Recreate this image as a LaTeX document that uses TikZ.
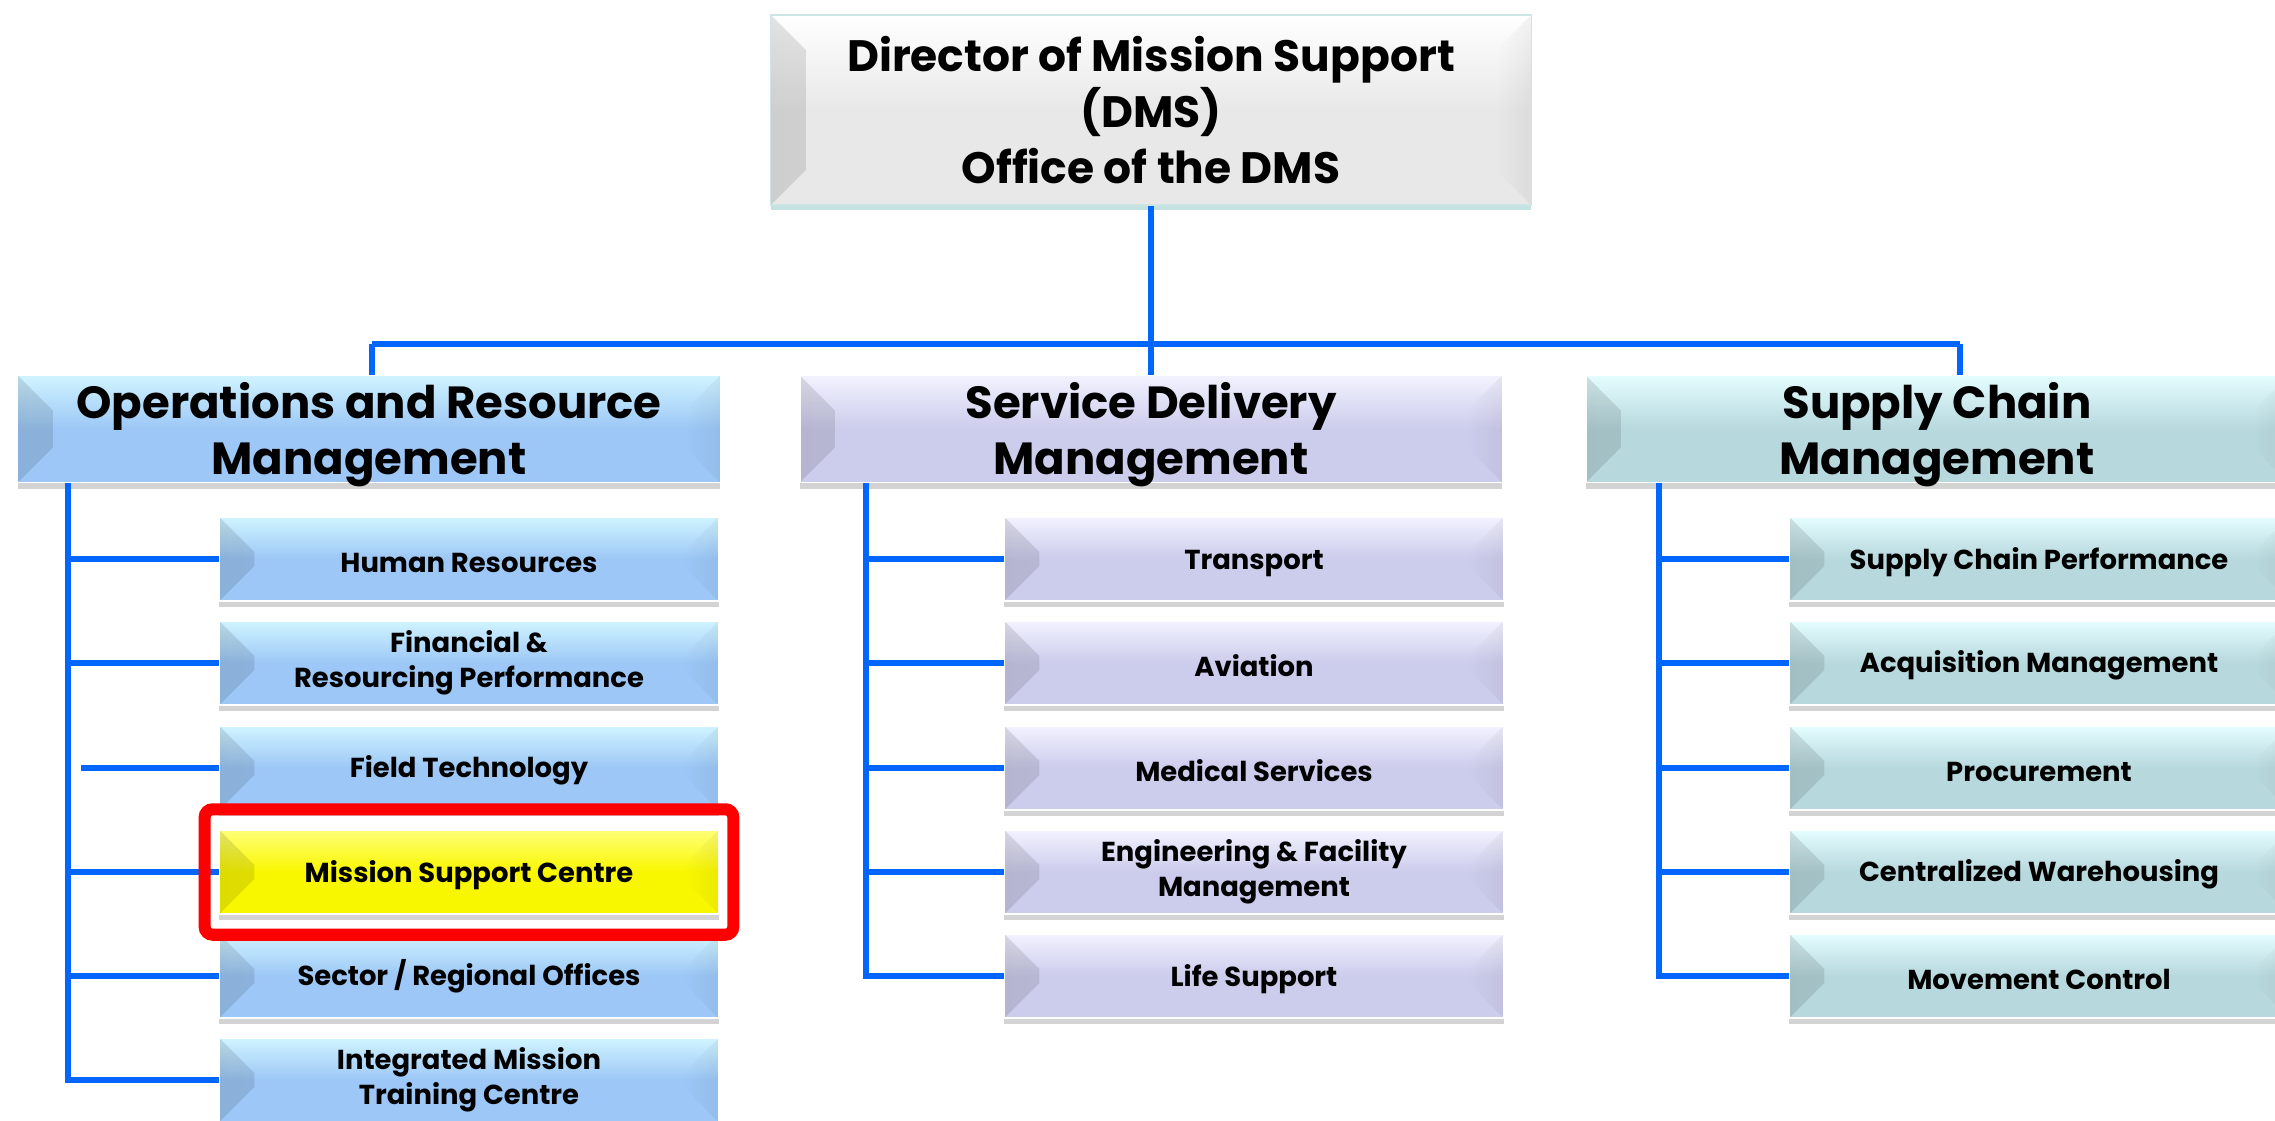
\documentclass[tikz,border=0pt]{standalone}
\usepackage{fontspec}
\setmainfont{Poppins}
\usetikzlibrary{shadows,shadings,fadings,fit,calc}

\definecolor{dmsgrey}{RGB}{232,232,232}
\definecolor{opsblue}{RGB}{156,199,246}
\definecolor{opstop}{RGB}{208,244,255}
\definecolor{svclilac}{RGB}{204,204,236}
\definecolor{svctop}{RGB}{242,242,255}
\definecolor{supteal}{RGB}{183,216,221}
\definecolor{suptop}{RGB}{228,253,255}
\definecolor{mscyellow}{RGB}{249,247,0}
\definecolor{msctop}{RGB}{255,255,120}
\definecolor{linkblue}{RGB}{0,102,255}

\tikzstyle{bevel}=[path picture={
    \fill[black,opacity=0.11,path fading=east] (path picture bounding box.north west) -- ++(0.35cm,-0.35cm) -- ([xshift=0.35cm,yshift=0.35cm]path picture bounding box.south west) -- (path picture bounding box.south west) -- cycle;
    \fill[black,opacity=0.05,path fading=west] (path picture bounding box.north east) -- ++(-0.35cm,-0.35cm) -- ([xshift=-0.35cm,yshift=0.35cm]path picture bounding box.south east) -- (path picture bounding box.south east) -- cycle;}]
\tikzstyle{box}=[rectangle,draw=white,line width=0.4pt,align=center,inner sep=0pt,bevel]
\tikzstyle{topbox}=[box,draw=teal!20,minimum width=7.6cm,minimum height=1.9cm,top color=white,bottom color=dmsgrey,middle color=dmsgrey,
    drop shadow={shadow xshift=0pt,shadow yshift=-0.05cm,fill=teal!45,opacity=0.5},font=\bfseries\fontsize{12.5}{16}\selectfont]
\tikzstyle{headbox}=[box,minimum width=7.02cm,minimum height=1.07cm,text height=0.99cm,text depth=0.08cm,
    drop shadow={shadow xshift=0pt,shadow yshift=-0.06cm,fill=black!50,opacity=0.35},font=\bfseries\fontsize{12.8}{16}\selectfont]
\tikzstyle{subbox}=[box,minimum width=4.99cm,minimum height=0.84cm,execute at begin node={\rule{0pt}{1em}},
    drop shadow={shadow xshift=0pt,shadow yshift=-0.06cm,fill=black!50,opacity=0.35},font=\bfseries\fontsize{7.8}{10}\selectfont]
\tikzstyle{ops}=[top color=opstop,bottom color=opsblue,middle color=opsblue]
\tikzstyle{svc}=[top color=svctop,bottom color=svclilac,middle color=svclilac]
\tikzstyle{sup}=[top color=suptop,bottom color=supteal,middle color=supteal]
\tikzstyle{msc}=[top color=msctop,bottom color=mscyellow,middle color=mscyellow]
\tikzstyle{link}=[draw,linkblue,line width=0.055cm]
\tikzstyle{hilite}=[draw=red,line width=0.12cm,rounded corners=0.08cm,inner xsep=0.14cm,inner ysep=0.2cm]

\begin{document}
\begin{tikzpicture}[x=0.01cm,y=-0.01cm]
    \useasboundingbox (0,0) rectangle (2275,1121);

    \node[topbox] (dms) at (1151,110) {Director of Mission Support\\(DMS)\\Office of the DMS};

    \node[headbox,ops] (orm) at (369,429) {Operations and Resource\\Management};
    \node[headbox,svc] (sdm) at (1151,429) {Service Delivery\\Management};
    \node[headbox,sup] (scm) at (1937,429) {Supply Chain\\Management};

    % Sections under each head
    \foreach \y/\name/\txt in {559/hr/{Human Resources}, 663/fin/{Financial \&\\Resourcing Performance},
        768/ft/{Field Technology}, 976/sro/{Sector / Regional Offices}, 1080/imtc/{Integrated Mission\\Training Centre}}
        \node[subbox,ops] (\name) at (469,\y) {\txt};
    \node[subbox,msc] (msc) at (469,872) {Mission Support Centre};

    \foreach \y/\name/\txt in {559/tr/{Transport}, 663/av/{Aviation}, 768/med/{Medical Services},
        872/efm/{Engineering \& Facility\\Management}, 976/ls/{Life Support}}
        \node[subbox,svc] (\name) at (1254,\y) {\txt};

    \foreach \y/\name/\txt in {559/scp/{Supply Chain Performance}, 663/acq/{Acquisition Management},
        768/proc/{Procurement}, 872/cw/{Centralized Warehousing}, 976/mc/{Movement Control}}
        \node[subbox,sup] (\name) at (2039,\y) {\txt};

    % Connect the director to the three heads
    \coordinate (busL) at (372,344);
    \coordinate (busR) at (1960,344);
    \path[link] (busL) -- (busR);
    \path[link] (dms.south) -- (sdm.north);
    \path[link] (busL) -- (busL |- orm.north);
    \path[link] (busR) -- (busR |- scm.north);

    % Connect each head to its sections
    \coordinate (opsTrunk) at (68,0);
    \coordinate (ftGap) at (81,0);
    \coordinate (svcTrunk) at (866,0);
    \coordinate (supTrunk) at (1659,0);
    \path[link] (opsTrunk |- orm.south) |- (imtc.west);
    \foreach \name in {hr,fin,msc,sro}
        \path[link] (opsTrunk |- \name.west) -- (\name.west);
    \path[link] (ftGap |- ft.west) -- (ft.west);
    \path[link] (svcTrunk |- sdm.south) |- (ls.west);
    \foreach \name in {tr,av,med,efm}
        \path[link] (svcTrunk |- \name.west) -- (\name.west);
    \path[link] (supTrunk |- scm.south) |- (mc.west);
    \foreach \name in {scp,acq,proc,cw}
        \path[link] (supTrunk |- \name.west) -- (\name.west);

    \node[hilite,fit=(msc)] (mscframe) {};
\end{tikzpicture}
\end{document}
